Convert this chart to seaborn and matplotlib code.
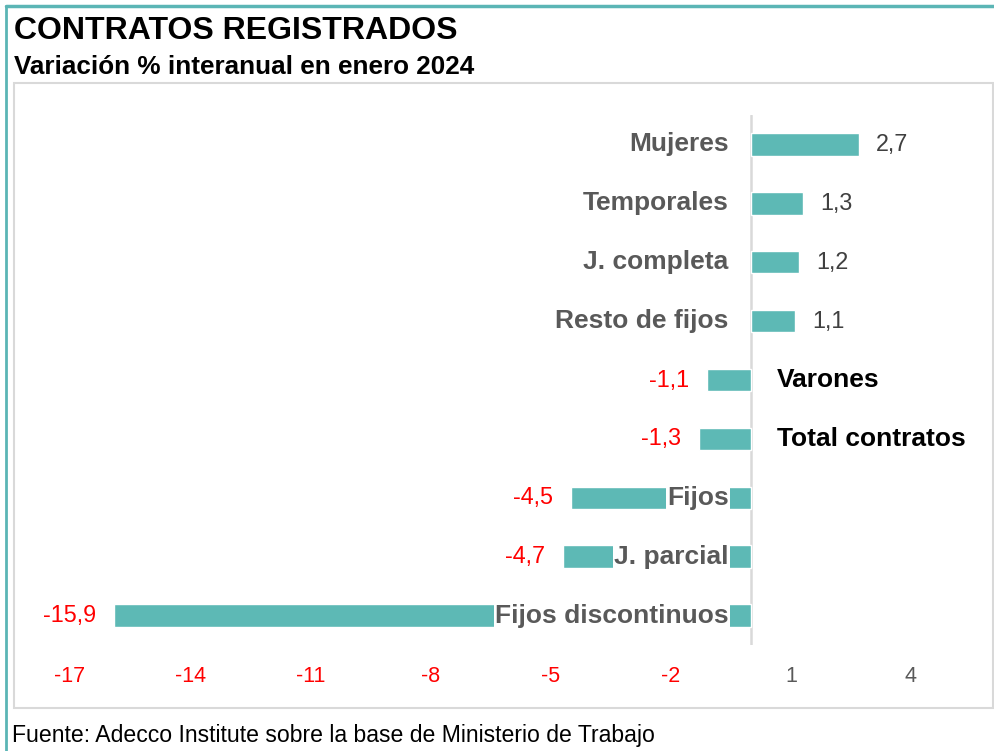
import matplotlib
matplotlib.use('Agg')
import matplotlib.pyplot as plt
import seaborn as sns
import pandas as pd
from matplotlib.patches import Rectangle
from matplotlib.lines import Line2D

# ---- data ----
categories = ["Mujeres", "Temporales", "J. completa", "Resto de fijos", "Varones",
              "Total contratos", "Fijos", "J. parcial", "Fijos discontinuos"]
values = [2.7, 1.3, 1.2, 1.1, -1.1, -1.3, -4.5, -4.7, -15.9]
x_ticks = [-17, -14, -11, -8, -5, -2, 1, 4]
title = "CONTRATOS REGISTRADOS"
subtitle = "Variación % interanual en enero 2024"
source = "Fuente: Adecco Institute sobre la base de Ministerio de Trabajo"

sns.set_theme(style='white')
plt.rcParams['font.family'] = ['Liberation Sans', 'DejaVu Sans']

W, H = 995, 751
fig = plt.figure(figsize=(W / 100, H / 100), dpi=100)
ax = fig.add_axes([70 / W, 1 - 645 / H, (911 - 70) / W, (645 - 115) / H])
ax.set_facecolor('none')

df = pd.DataFrame({'cat': categories, 'val': values})
sns.barplot(data=df, x='val', y='cat', orient='h', color='#5DB9B5',
            width=0.38, saturation=1, ax=ax, zorder=2)

ax.set_xlim(x_ticks[0], x_ticks[-1])
ax.set_ylim(len(categories) - 0.5, -0.5)
ax.set_xticks(x_ticks)
ax.set_xticklabels([str(t) for t in x_ticks])
for lab, t in zip(ax.get_xticklabels(), x_ticks):
    lab.set_color('#FF0000' if t < 0 else '#595959')
ax.tick_params(axis='x', length=0, pad=15, labelsize=15.5)
ax.set_yticks([])
ax.set_xlabel('')
ax.set_ylabel('')
for s in ax.spines.values():
    s.set_visible(False)
ax.axvline(0, color='#D9D9D9', lw=1.8, zorder=1)

for i, (c, v) in enumerate(zip(categories, values)):
    # value labels
    txt = f"{v:.1f}".replace('.', ',')
    if v >= 0:
        ax.annotate(txt, xy=(v, i), xytext=(12.5, 0), textcoords='offset points',
                    ha='left', va='center', fontsize=16.8, color='#404040')
    else:
        ax.annotate(txt, xy=(v, i), xytext=(-13, 0), textcoords='offset points',
                    ha='right', va='center', fontsize=16.8, color='#FF0000')
    # category labels
    if v >= 0:
        ax.annotate(c, xy=(0, i), xytext=(-16, 0), textcoords='offset points',
                    ha='right', va='center', fontsize=19, fontweight='bold',
                    color='#595959', zorder=5)
    elif v > -2:
        ax.annotate(c, xy=(0, i), xytext=(18.5, 0), textcoords='offset points',
                    ha='left', va='center', fontsize=19, fontweight='bold',
                    color='black', zorder=5)
    else:
        ax.annotate(c, xy=(0, i), xytext=(-16, 0), textcoords='offset points',
                    ha='right', va='center', fontsize=19, fontweight='bold',
                    color='#595959', zorder=5,
                    bbox=dict(facecolor='white', edgecolor='none', pad=1.0))

# frames
fig.add_artist(Rectangle((14 / W, 1 - 708 / H), 979 / W, 625 / H,
                         transform=fig.transFigure, fill=False,
                         edgecolor='#D9D9D9', lw=1.5))
fig.add_artist(Line2D([6 / W, 1], [1 - 6 / H, 1 - 6 / H], transform=fig.transFigure,
                      color='#5BB5B5', lw=2.5))
fig.add_artist(Line2D([6 / W, 6 / W], [0, 1 - 6 / H], transform=fig.transFigure,
                      color='#5BB5B5', lw=2.0))

fig.text(14 / W, 1 - 39 / H, title, fontsize=23, fontweight='bold',
         va='baseline', ha='left', color='black')
fig.text(14 / W, 1 - 74 / H, subtitle, fontsize=18.8, fontweight='bold',
         va='baseline', ha='left', color='black')
fig.text(12 / W, 1 - 742 / H, source, fontsize=16.6, va='baseline', ha='left',
         color='black')

fig.savefig('out.png', dpi=100)
